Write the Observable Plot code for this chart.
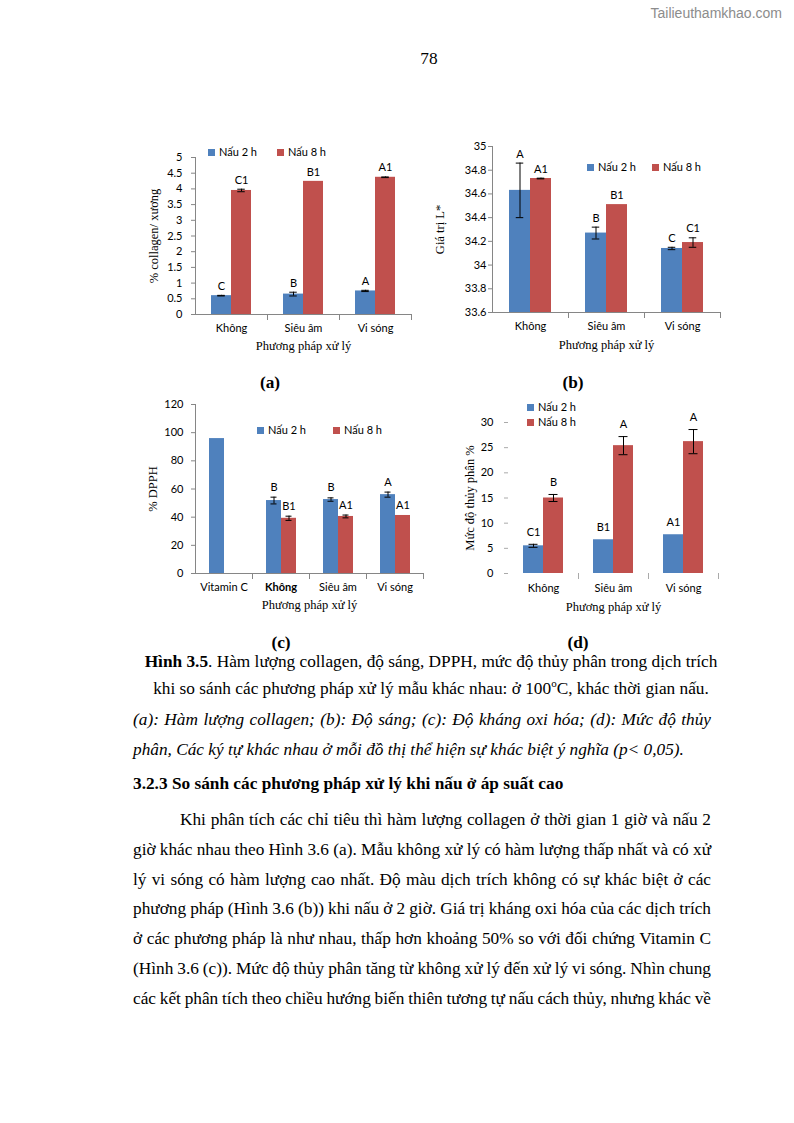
<!DOCTYPE html>
<html>
<head>
<meta charset="utf-8">
<script src="https://cdn.jsdelivr.net/npm/d3@7"></script>
<script src="https://cdn.jsdelivr.net/npm/@observablehq/plot@0.6"></script>
<style>
  body { margin: 0; background: #fff; }
  #page { position: relative; width: 794px; height: 1123px; overflow: hidden; background: #fff;
          font-family: "Liberation Serif", "Times New Roman", serif; color: #000; }
  .abs { position: absolute; white-space: nowrap; }
  .chart { position: absolute; }
  .chart svg { overflow: visible; }
  .txt { position: absolute; font-size: 17.3px; line-height: 30px; height: 30px; white-space: nowrap; }
  .jl { position: absolute; font-size: 17.3px; line-height: 30px; height: 30px; white-space: nowrap; }
  .lg { position: absolute; font-family: Lato, "Liberation Sans", sans-serif; font-size: 11px; line-height: 12px; white-space: nowrap; }
  .sw { position: absolute; width: 7px; height: 7px; }
</style>
</head>
<body>
<div id="page">
  <div class="abs" style="left:596px;top:5px;width:186px;text-align:right;font-family:'Liberation Sans',Arial,sans-serif;font-size:14px;color:#8c8c8c;">Tailieuthamkhao.com</div>
  <div class="txt" style="left:399px;top:44px;width:60px;text-align:center;">78</div>

  <div class="txt" style="left:240px;top:368px;width:60px;text-align:center;font-weight:bold;">(a)</div>
  <div class="txt" style="left:543px;top:368px;width:60px;text-align:center;font-weight:bold;">(b)</div>
  <div class="txt" style="left:251px;top:628px;width:60px;text-align:center;font-weight:bold;">(c)</div>
  <div class="txt" style="left:548px;top:628px;width:60px;text-align:center;font-weight:bold;">(d)</div>

  <div class="txt" style="left:131px;top:647px;width:600px;text-align:center;"><b>Hình 3.5</b>. Hàm lượng collagen, độ sáng, DPPH, mức độ thủy phân trong dịch trích</div>
  <div class="txt" style="left:131px;top:674px;width:600px;text-align:center;">khi so sánh các phương pháp xử lý mẫu khác nhau: ở 100<sup style="font-size:11px;line-height:0">o</sup>C, khác thời gian nấu.</div>
  <div class="jl" style="left:133px;top:705px;width:578px;font-style:italic;"><span>(a): Hàm lượng collagen; (b): Độ sáng; (c): Độ kháng oxi hóa; (d): Mức độ thủy</span></div>
  <div class="txt" style="left:133px;top:735px;font-style:italic;">phân, Các ký tự khác nhau ở mỗi đồ thị thể hiện sự khác biệt ý nghĩa (p&lt; 0,05).</div>

  <div class="txt" style="left:133px;top:769px;font-weight:bold;">3.2.3 So sánh các phương pháp xử lý khi nấu ở áp suất cao</div>

  <div id="para"></div>
</div>

<script>
// ---------------- DATA ----------------
const seriesNames = ["Nấu 2 h", "Nấu 8 h"];
const seriesColors = ["#4F81BD", "#C0504D"];
const xTitle = "Phương pháp xử lý";

// (a) Hàm lượng collagen
const catA = ["Không", "Siêu âm", "Vi sóng"];
const a2h = [0.60, 0.65, 0.75];
const a8h = [3.95, 4.24, 4.37];
const a2hErr = [0.01, 0.06, 0.02];
const a8hErr = [0.04, 0, 0.01];
const a2hLetters = ["C", "B", "A"];
const a8hLetters = ["C1", "B1", "A1"];
const aTicks = [0, 0.5, 1, 1.5, 2, 2.5, 3, 3.5, 4, 4.5, 5];
const aYTitle = "% collagen/ xương";

// (b) Độ sáng
const catB = ["Không", "Siêu âm", "Vi sóng"];
const b2h = [34.63, 34.27, 34.14];
const b8h = [34.73, 34.51, 34.19];
const b2hErr = [0.23, 0.05, 0.01];
const b8hErr = [0.003, 0, 0.04];
const b2hLetters = ["A", "B", "C"];
const b8hLetters = ["A1", "B1", "C1"];
const bTicks = [33.6, 33.8, 34, 34.2, 34.4, 34.6, 34.8, 35];
const bYTitle = "Giá trị L*";

// (c) DPPH
const catC = ["Vitamin C", "Không", "Siêu âm", "Vi sóng"];
const c2h = [95.8, 51.8, 52.5, 56.0];
const c8h = [null, 39.2, 40.5, 41.2];
const c2hErr = [0, 2.4, 1.2, 1.8];
const c8hErr = [0, 1.5, 1.0, 0];
const c2hLetters = ["", "B", "B", "A"];
const c8hLetters = ["", "B1", "A1", "A1"];
const cTicks = [0, 20, 40, 60, 80, 100, 120];
const cYTitle = "% DPPH";
const cBoldTicks = ["Không"];

// (d) Mức độ thủy phân
const catD = ["Không", "Siêu âm", "Vi sóng"];
const d2h = [5.5, 6.7, 7.7];
const d8h = [15.0, 25.4, 26.2];
const d2hErr = [0.3, 0, 0];
const d8hErr = [0.7, 1.8, 2.4];
const d2hLetters = ["C1", "B1", "A1"];
const d8hLetters = ["B", "A", "A"];
const dTicks = [0, 5, 10, 15, 20, 25, 30];
const dYTitle = "Mức độ thủy phân %";

const paraLines = [
  "Khi phân tích các chỉ tiêu thì hàm lượng collagen ở thời gian 1 giờ và nấu 2",
  "giờ khác nhau theo Hình 3.6 (a). Mẫu không xử lý có hàm lượng thấp nhất và có xử",
  "lý vi sóng có hàm lượng cao nhất. Độ màu dịch trích không có sự khác biệt ở các",
  "phương pháp (Hình 3.6 (b)) khi nấu ở 2 giờ. Giá trị kháng oxi hóa của các dịch trích",
  "ở các phương pháp là như nhau, thấp hơn khoảng 50% so với đối chứng Vitamin C",
  "(Hình 3.6 (c)). Mức độ thủy phân tăng từ không xử lý đến xử lý vi sóng. Nhìn chung",
  "các kết phân tích theo chiều hướng biến thiên tương tự nấu cách thủy, nhưng khác về"
];

// ---------------- LAYOUT ----------------
const serif = "'Liberation Serif', 'Times New Roman', serif";
const charts = [
  { data: {categories: catA, values: [a2h, a8h], errors: [a2hErr, a8hErr], letters: [a2hLetters, a8hLetters], ticks: aTicks, yTitle: aYTitle, bold: []},
    L: {left:140, top:140, width:275, height:220, marginLeft:55, marginRight:4, marginTop:17, marginBottom:46,
        po:0.748, capInset:6.25, tickPadding:9, yLabelOffset:46.5, fxPadding:10, fxLabelOffset:35.75, letterDy:-9,
        axisLines:true, axisStroke:"#868686", tickStroke:"#868686"},
    legend: [[208,152],[277,152]] },
  { data: {categories: catB, values: [b2h, b8h], errors: [b2hErr, b8hErr], letters: [b2hLetters, b8hLetters], ticks: bTicks, yTitle: bYTitle, bold: []},
    L: {left:430, top:140, width:300, height:220, marginLeft:62, marginRight:10, marginTop:6, marginBottom:48,
        po:0.767, capInset:6.75, tickPadding:2, yLabelOffset:57.75, fxPadding:10, fxLabelOffset:36.75, letterDy:-9,
        axisLines:true, axisStroke:"#868686", tickStroke:"#868686"},
    legend: [[587,167],[652,167]] },
  { data: {categories: catC, values: [c2h, c8h], errors: [c2hErr, c8hErr], letters: [c2hLetters, c8hLetters], ticks: cTicks, yTitle: cYTitle, bold: cBoldTicks},
    L: {left:140, top:390, width:290, height:230, marginLeft:54, marginRight:7, marginTop:14, marginBottom:47,
        po:0.789, capInset:4.5, tickPadding:8, yLabelOffset:47.75, fxPadding:10, fxLabelOffset:35.75, letterDy:-10,
        axisLines:true, axisStroke:"#868686", tickStroke:"#868686"},
    legend: [[257,430],[333,430]] },
  { data: {categories: catD, values: [d2h, d8h], errors: [d2hErr, d8hErr], letters: [d2hLetters, d8hLetters], ticks: dTicks, yTitle: dYTitle, bold: []},
    L: {left:440, top:390, width:290, height:230, marginLeft:68, marginRight:12, marginTop:32, marginBottom:47,
        po:0.75, capInset:5.5, tickPadding:11, yLabelOffset:43.75, fxPadding:10.5, fxLabelOffset:37, letterDy:-12,
        axisLines:false, axisStroke:"#bbbbbb", tickStroke:"#aaaaaa"},
    legend: [[527,407],[527,422]] }
];

function buildChart(d, L) {
  const rows = [];
  d.categories.forEach((c, i) => {
    d.values.forEach((vals, j) => {
      if (vals[i] == null) return;
      rows.push({category: c, series: seriesNames[j], value: vals[i],
                 err: d.errors[j][i] || 0, letter: d.letters[j][i] || ""});
    });
  });
  const base = d.ticks[0];
  const top = d.ticks[d.ticks.length - 1];
  const innerH = L.height - L.marginTop - L.marginBottom;
  const errRows = rows.filter(r => r.err > 0);
  const normalTicks = d.categories.filter(c => !d.bold.includes(c));
  const marks = [
    Plot.barY(rows, {fx: "category", x: "series", y1: () => base, y2: "value", fill: "series"}),
    Plot.ruleX(errRows, {fx: "category", x: "series", y1: r => r.value - r.err, y2: r => r.value + r.err, stroke: "#000", strokeWidth: 1}),
    Plot.tickY(errRows, {fx: "category", x: "series", y: r => r.value + r.err, insetLeft: L.capInset, insetRight: L.capInset, stroke: "#000"}),
    Plot.tickY(errRows, {fx: "category", x: "series", y: r => r.value - r.err, insetLeft: L.capInset, insetRight: L.capInset, stroke: "#000"}),
    Plot.text(rows.filter(r => r.letter), {fx: "category", x: "series", y: r => r.value + r.err, text: "letter", dy: L.letterDy, fill: "#000"}),
    Plot.axisY({ticks: d.ticks, tickSize: 4, tickPadding: L.tickPadding, tickFormat: v => String(v), stroke: L.tickStroke, fill: "#000", label: null}),
    Plot.axisY({ticks: [], label: d.yTitle, labelAnchor: "center", labelOffset: L.yLabelOffset, labelArrow: "none", fontFamily: serif, fontSize: 12.5}),
    Plot.axisFx({anchor: "bottom", ticks: normalTicks, tickSize: 0, tickPadding: L.fxPadding, label: null}),
    Plot.axisFx({anchor: "bottom", ticks: [], label: xTitle, labelAnchor: "center", labelOffset: L.fxLabelOffset, labelArrow: "none", fontFamily: serif, fontSize: 12.5}),
    Plot.frame({anchor: "right", insetTop: innerH, insetBottom: -5, stroke: L.tickStroke})
  ];
  if (d.bold.length) {
    marks.push(Plot.axisFx({anchor: "bottom", ticks: d.bold, tickSize: 0, tickPadding: L.fxPadding, label: null, fontWeight: "bold"}));
  }
  if (L.axisLines) {
    marks.push(Plot.frame({anchor: "bottom", stroke: L.axisStroke}));
    marks.push(Plot.frame({anchor: "left", facetAnchor: "left", stroke: L.axisStroke}));
  }
  return Plot.plot({
    width: L.width, height: L.height,
    marginLeft: L.marginLeft, marginRight: L.marginRight, marginTop: L.marginTop, marginBottom: L.marginBottom,
    style: {fontFamily: "Lato, 'Liberation Sans', sans-serif", fontSize: "11px", background: "transparent", overflow: "visible", color: "#000"},
    fx: {domain: d.categories, padding: 0},
    x: {domain: seriesNames, paddingInner: 0, paddingOuter: L.po, axis: null},
    y: {domain: [base, top]},
    color: {domain: seriesNames, range: seriesColors},
    marks
  });
}

const page = document.getElementById("page");
charts.forEach(({data, L, legend}) => {
  const wrap = document.createElement("div");
  wrap.className = "chart";
  wrap.style.left = L.left + "px";
  wrap.style.top = L.top + "px";
  wrap.appendChild(buildChart(data, L));
  page.appendChild(wrap);
  legend.forEach(([x, y], j) => {
    const sw = document.createElement("div");
    sw.className = "sw";
    sw.style.left = x + "px";
    sw.style.top = (y - 3.5) + "px";
    sw.style.background = seriesColors[j];
    page.appendChild(sw);
    const t = document.createElement("div");
    t.className = "lg";
    t.style.left = (x + 11) + "px";
    t.style.top = (y - 6.5) + "px";
    t.textContent = seriesNames[j];
    page.appendChild(t);
  });
});

// paragraph lines (justified per line)
const para = document.getElementById("para");
paraLines.forEach((s, i) => {
  const div = document.createElement("div");
  div.className = "jl";
  const indent = i === 0 ? 47 : 0;
  div.style.left = (133 + indent) + "px";
  div.style.width = (578 - indent) + "px";
  div.style.top = (805 + i * 29.8) + "px";
  const span = document.createElement("span");
  span.textContent = s;
  div.appendChild(span);
  para.appendChild(div);
});

document.querySelectorAll(".jl").forEach(el => {
  const span = el.firstElementChild;
  const natural = span.getBoundingClientRect().width;
  const target = parseFloat(el.style.width);
  const spaces = (span.textContent.match(/ /g) || []).length;
  if (spaces > 0) span.style.wordSpacing = ((target - natural) / spaces) + "px";
});
</script>
</body>
</html>
